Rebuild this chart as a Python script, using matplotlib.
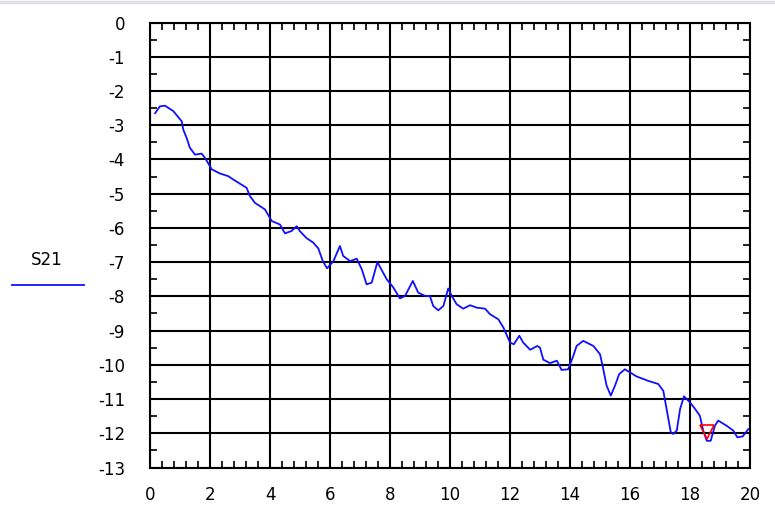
import numpy as np
import matplotlib.pyplot as plt
from matplotlib.lines import Line2D
from matplotlib.ticker import MultipleLocator

plt.rcParams["axes.unicode_minus"] = False

# S21 trace (GHz, dB)
freq = [0.17, 0.33, 0.5, 0.78, 1.06, 1.11, 1.22, 1.33, 1.5, 1.72, 1.83, 2.06, 2.33,
        2.61, 2.78, 3.22, 3.33, 3.5, 3.83, 4.06, 4.33, 4.5, 4.72, 4.89, 5.0, 5.22,
        5.44, 5.61, 5.76, 5.9, 6.11, 6.33, 6.44, 6.67, 6.89, 7.06, 7.22, 7.39, 7.58,
        7.89, 8.11, 8.33, 8.5, 8.76, 8.94, 9.17, 9.33, 9.44, 9.61, 9.78, 9.94, 10.06,
        10.22, 10.44, 10.67, 10.89, 11.17, 11.33, 11.61, 11.78, 12.0, 12.13, 12.31,
        12.44, 12.67, 12.91, 13.0, 13.11, 13.33, 13.56, 13.72, 13.94, 14.11, 14.22,
        14.44, 14.78, 15.0, 15.11, 15.22, 15.36, 15.5, 15.64, 15.83, 16.22, 16.61,
        16.94, 17.11, 17.22, 17.36, 17.44, 17.56, 17.67, 17.8, 18.0, 18.17, 18.33,
        18.44, 18.56, 18.69, 18.83, 18.94, 19.22, 19.44, 19.58, 19.76, 19.94]
s21 = [-2.65, -2.45, -2.43, -2.59, -2.89, -3.13, -3.37, -3.66, -3.86, -3.83, -3.95,
       -4.29, -4.41, -4.49, -4.59, -4.83, -5.07, -5.27, -5.46, -5.8, -5.9, -6.16,
       -6.09, -5.95, -6.1, -6.3, -6.43, -6.6, -6.97, -7.18, -6.98, -6.53, -6.82,
       -6.97, -6.9, -7.21, -7.65, -7.6, -7.0, -7.5, -7.74, -8.06, -7.99, -7.55,
       -7.89, -7.99, -7.99, -8.28, -8.41, -8.28, -7.77, -7.99, -8.23, -8.36, -8.26,
       -8.33, -8.36, -8.52, -8.67, -8.91, -9.35, -9.4, -9.15, -9.35, -9.56, -9.45,
       -9.5, -9.85, -9.95, -9.88, -10.15, -10.13, -9.74, -9.45, -9.3, -9.45, -9.69,
       -10.13, -10.61, -10.9, -10.61, -10.27, -10.13, -10.34, -10.47, -10.56, -10.76,
       -11.29, -11.97, -12.02, -11.92, -11.29, -10.92, -11.1, -11.29, -11.49, -11.92,
       -12.22, -12.22, -11.78, -11.63, -11.78, -11.92, -12.12, -12.09, -11.88]
marker_x = [18.55]
marker_y = [-11.95]
x_ticks = [0, 2, 4, 6, 8, 10, 12, 14, 16, 18, 20]
y_ticks = [0, -1, -2, -3, -4, -5, -6, -7, -8, -9, -10, -11, -12, -13]

W, H = 775, 508
fig = plt.figure(figsize=(W / 100, H / 100), dpi=100)
ax = fig.add_axes([150 / W, (H - 467.5) / H, 600 / W, (467.5 - 22.5) / H])

ax.plot(freq, s21, color="#1010ff", linewidth=1.3)
ax.plot(marker_x, marker_y, marker="v", markersize=10, markerfacecolor="none",
        markeredgecolor="red", markeredgewidth=1.2, linestyle="none")

ax.set_xlim(0, 20)
ax.set_ylim(-13, 0)
ax.set_xticks(x_ticks)
ax.set_yticks(y_ticks)
ax.xaxis.set_minor_locator(MultipleLocator(0.4))
ax.yaxis.set_minor_locator(MultipleLocator(0.5))
ax.grid(True, which="major", color="black", linewidth=1.5)
ax.tick_params(which="major", length=0, labelsize=12)
ax.tick_params(axis="y", which="major", pad=18)
ax.tick_params(axis="x", which="major", pad=13)
ax.tick_params(which="minor", direction="in", length=5, width=1.2,
               top=True, right=True, color="black")
for s in ax.spines.values():
    s.set_linewidth(1.5)
    s.set_color("black")

# legend on the left
fig.text(47 / W, 1 - 260 / H, "S21", ha="center", va="center", fontsize=12)
fig.add_artist(Line2D([12 / W, 84 / W], [1 - 285 / H, 1 - 285 / H],
                      color="#1010ff", linewidth=1.3))
# thin window border at top
fig.add_artist(Line2D([0, 1], [1 - 1.5 / H, 1 - 1.5 / H], color="#dde0e4", linewidth=2.5))

fig.savefig("out.png", dpi=100)
